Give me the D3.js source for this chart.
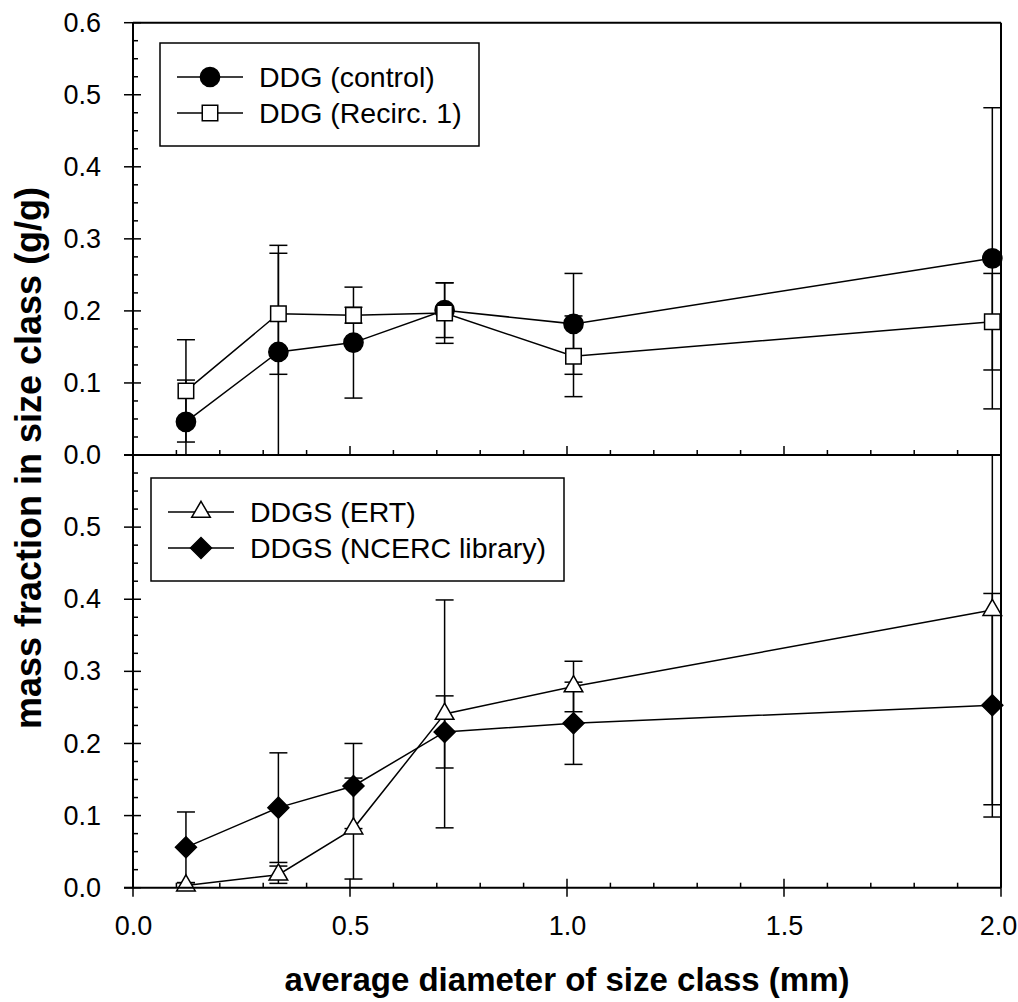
<!DOCTYPE html>
<html>
<head>
<meta charset="utf-8">
<script src="https://cdn.jsdelivr.net/npm/d3@7"></script>
<style>
  body { margin: 0; background: #fff; }
  svg text { font-family: "Liberation Sans", Arial, sans-serif; fill: #000; }
</style>
</head>
<body>
<svg id="chart" width="1018" height="1002"></svg>
<script>
// size classes (mm)
const sizeClass = [0.122, 0.335, 0.508, 0.718, 1.015, 1.98];

// top panel
const ddgControl     = [0.046, 0.143, 0.156, 0.201, 0.182, 0.273];
const ddgControlErr  = [0.058, 0.148, 0.077, 0.038, 0.070, 0.209];
const ddgRecirc      = [0.089, 0.196, 0.194, 0.197, 0.137, 0.185];
const ddgRecircErr   = [0.071, 0.084, 0.011, 0.042, 0.056, 0.067];

// bottom panel
const ddgsErt        = [0.003, 0.018, 0.082, 0.241, 0.279, 0.385];
const ddgsErtErr     = [0.004, 0.012, 0.070, 0.158, 0.035, 0.270];
const ddgsNcerc      = [0.056, 0.111, 0.141, 0.216, 0.228, 0.253];
const ddgsNcercErr   = [0.049, 0.076, 0.059, 0.050, 0.057, 0.155];

const xTicks = [0, 0.5, 1.0, 1.5, 2.0];
const yTicksTop = [0, 0.1, 0.2, 0.3, 0.4, 0.5, 0.6];
const yTicksBottom = [0, 0.1, 0.2, 0.3, 0.4, 0.5];

const svg = d3.select("#chart");
const left = 133, right = 1001;
const topY0 = 22.7, midY = 455, botY = 887.7;

const x = d3.scaleLinear().domain([0, 2]).range([left, right]);
const yTop = d3.scaleLinear().domain([0, 0.6]).range([midY, topY0]);
const yBot = d3.scaleLinear().domain([0, 0.6]).range([botY, midY]);

const fmt = d3.format(".1f");

function markerPath(kind) {
  if (kind === "circle") return d3.symbol(d3.symbolCircle, 290)();
  if (kind === "square") return d3.symbol(d3.symbolSquare, 240)();
  if (kind === "triangle") return d3.symbol(d3.symbolTriangle, 150)();
  if (kind === "diamond") return d3.symbol(d3.symbolSquare, 220)();
}

function drawMarker(g, kind, filled, cx, cy) {
  g.append("path")
    .attr("d", markerPath(kind))
    .attr("transform", "translate(" + cx + "," + cy + ")" + (kind === "diamond" ? " rotate(45)" : ""))
    .attr("fill", filled ? "#000" : "#fff")
    .attr("stroke", "#000")
    .attr("stroke-width", 1.5);
}

function panel(y, ticks, isBottom, series, legend) {
  const g = svg.append("g");
  const [y0, y1] = y.range();

  // error bars
  series.forEach(s => {
    s.vals.forEach((v, i) => {
      const cx = x(sizeClass[i]);
      const lo = v - s.err[i], hi = v + s.err[i];
      const yl = y(Math.max(lo, 0)), yh = y(Math.min(hi, 0.6));
      g.append("line").attr("x1", cx).attr("x2", cx).attr("y1", yl).attr("y2", yh)
        .attr("stroke", "#000").attr("stroke-width", 1.5);
      if (lo >= 0) g.append("line").attr("x1", cx - 9).attr("x2", cx + 9).attr("y1", y(lo)).attr("y2", y(lo))
        .attr("stroke", "#000").attr("stroke-width", 1.5);
      if (hi <= 0.6) g.append("line").attr("x1", cx - 9).attr("x2", cx + 9).attr("y1", y(hi)).attr("y2", y(hi))
        .attr("stroke", "#000").attr("stroke-width", 1.5);
    });
  });

  // lines + markers
  const line = d3.line().x((d, i) => x(sizeClass[i])).y(d => y(d));
  series.forEach(s => {
    g.append("path").datum(s.vals).attr("d", line)
      .attr("fill", "none").attr("stroke", "#000").attr("stroke-width", 1.5);
  });
  series.forEach(s => {
    s.vals.forEach((v, i) => drawMarker(g, s.kind, s.filled, x(sizeClass[i]), y(v)));
  });

  // frame
  g.append("line").attr("x1", left).attr("x2", left).attr("y1", y0).attr("y2", y1).attr("stroke", "#000").attr("stroke-width", 2);
  g.append("line").attr("x1", right).attr("x2", right).attr("y1", y0).attr("y2", y1).attr("stroke", "#000").attr("stroke-width", 2);
  g.append("line").attr("x1", left - 9).attr("x2", right).attr("y1", y0).attr("y2", y0).attr("stroke", "#000").attr("stroke-width", 2);
  g.append("line").attr("x1", left).attr("x2", right).attr("y1", y1).attr("y2", y1).attr("stroke", "#000").attr("stroke-width", 2);

  // y ticks
  const yMinor = d3.range(0, 0.6001, 0.025).filter(t => Math.abs(t * 10 - Math.round(t * 10)) > 1e-6);
  yMinor.forEach(t => g.append("line").attr("x1", left).attr("x2", left + 5).attr("y1", y(t)).attr("y2", y(t)).attr("stroke", "#000").attr("stroke-width", 1.5));
  d3.range(0, 0.6001, 0.1).forEach(t => g.append("line").attr("x1", left - 9).attr("x2", left + 8).attr("y1", y(t)).attr("y2", y(t)).attr("stroke", "#000").attr("stroke-width", 1.5));

  const yAxis = d3.axisLeft(y).tickValues(ticks).tickFormat(fmt).tickSize(0).tickPadding(32);
  const ya = g.append("g").attr("transform", "translate(" + left + ",0)").call(yAxis);
  ya.select(".domain").remove();
  ya.selectAll("text").attr("font-size", 27).attr("font-family", "Liberation Sans, Arial, sans-serif");

  // x ticks
  d3.range(0.1, 2.0, 0.1).forEach(t => {
    if (Math.abs(t * 2 - Math.round(t * 2)) < 1e-6) return;
    g.append("line").attr("x1", x(t)).attr("x2", x(t)).attr("y1", y0).attr("y2", y0 - 5).attr("stroke", "#000").attr("stroke-width", 1.5);
  });
  xTicks.forEach(t => g.append("line").attr("x1", x(t)).attr("x2", x(t))
    .attr("y1", isBottom ? y0 + 9 : y0).attr("y2", y0 - 9).attr("stroke", "#000").attr("stroke-width", 1.5));

  if (isBottom) {
    const xAxis = d3.axisBottom(x).tickValues(xTicks).tickFormat(fmt).tickSize(0).tickPadding(28);
    const xa = g.append("g").attr("transform", "translate(0," + y0 + ")").call(xAxis);
    xa.select(".domain").remove();
    xa.selectAll("text").attr("font-size", 27).attr("font-family", "Liberation Sans, Arial, sans-serif")
      .attr("dx", d => d === 2.0 ? -3 : 0);
  }

  // legend
  g.append("rect").attr("x", legend.x).attr("y", legend.y).attr("width", legend.w).attr("height", legend.h)
    .attr("fill", "#fff").attr("stroke", "#000").attr("stroke-width", 1.5);
  series.forEach((s, i) => {
    const ly = legend.y + 34 + i * 36;
    g.append("line").attr("x1", legend.x + 17).attr("x2", legend.x + 83).attr("y1", ly).attr("y2", ly)
      .attr("stroke", "#000").attr("stroke-width", 1.5);
    drawMarker(g, s.kind, s.filled, legend.x + 50, ly);
    g.append("text").attr("x", legend.x + 99).attr("y", ly).attr("dy", "0.36em")
      .attr("font-size", 28.5).text(s.name);
  });
}

panel(yTop, yTicksTop, false, [
  { name: "DDG (control)", vals: ddgControl, err: ddgControlErr, kind: "circle", filled: true },
  { name: "DDG (Recirc. 1)", vals: ddgRecirc, err: ddgRecircErr, kind: "square", filled: false }
], { x: 160, y: 43, w: 319, h: 103 });

panel(yBot, yTicksBottom, true, [
  { name: "DDGS (ERT)", vals: ddgsErt, err: ddgsErtErr, kind: "triangle", filled: false },
  { name: "DDGS (NCERC library)", vals: ddgsNcerc, err: ddgsNcercErr, kind: "diamond", filled: true }
], { x: 151, y: 478, w: 413, h: 103 });

// axis titles
svg.append("text").attr("x", 567).attr("y", 991).attr("text-anchor", "middle")
  .attr("font-size", 33).attr("font-weight", "bold").text("average diameter of size class (mm)");
svg.append("text").attr("transform", "translate(41,458) rotate(-90)").attr("text-anchor", "middle")
  .attr("font-size", 36).attr("font-weight", "bold").text("mass fraction in size class (g/g)");
</script>
</body>
</html>
